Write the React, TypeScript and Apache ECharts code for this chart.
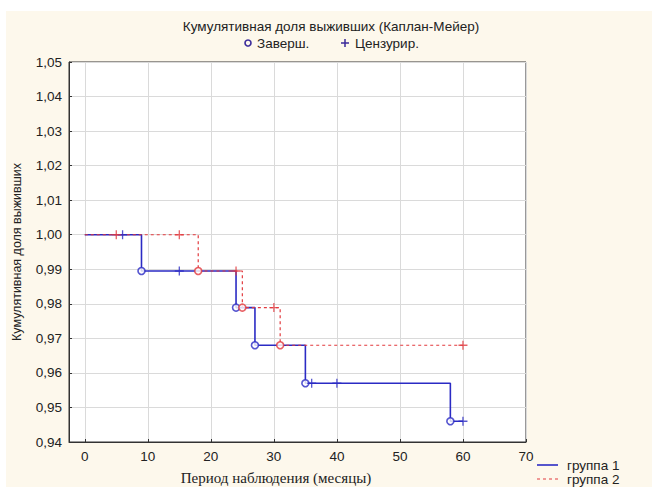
import React, { useEffect, useRef } from "react";
import * as echarts from "echarts";

// Group 1 (solid blue) step curve
const G1_TIMES = [0, 9, 24, 27, 35, 58, 60];
const G1_SURV = [1.0, 0.9895, 0.9789, 0.968, 0.957, 0.946, 0.946];
const G1_EVENT_T = [9, 24, 27, 35, 58];
const G1_EVENT_S = [0.9895, 0.9789, 0.968, 0.957, 0.946];
const G1_CENS_T = [6, 15, 36, 40, 60];
const G1_CENS_S = [1.0, 0.9895, 0.957, 0.957, 0.946];

// Group 2 (dashed red) step curve
const G2_TIMES = [0, 18, 25, 31, 60];
const G2_SURV = [1.0, 0.9895, 0.9789, 0.968, 0.968];
const G2_EVENT_T = [18, 25, 31];
const G2_EVENT_S = [0.9895, 0.9789, 0.968];
const G2_CENS_T = [5, 15, 24, 30, 60];
const G2_CENS_S = [1.0, 1.0, 0.9895, 0.9789, 0.968];

const SERIES_NAMES = ["группа 1", "группа 2"];
const TITLE = "Кумулятивная доля выживших (Каплан-Мейер)";
const MARK_LABELS = ["Заверш.", "Цензурир."];
const X_NAME = "Период наблюдения (месяцы)";
const Y_NAME = "Кумулятивная доля выживших";

const BLUE = "#2b2bc4";
const RED = "#e23a3e";
const FONT = "'Liberation Sans', Arial, sans-serif";
const PLUS = "path://M5,0 L5,10 M0,5 L10,5";

const zip = (a: number[], b: number[]) => a.map((v, i) => [v, b[i]]);

export default function App() {
  const ref = useRef<HTMLDivElement>(null);
  useEffect(() => {
    if (!ref.current) return;
    const chart = echarts.init(ref.current, undefined, { renderer: "svg" });
    const txt = (text: string, x: number, y: number, size = 13.5, extra: any = {}) => ({
      type: "text",
      x,
      y,
      style: { text, fontSize: size, fontFamily: FONT, fill: "#222", verticalAlign: "middle", ...extra },
    });
    chart.setOption({
      animation: false,
      backgroundColor: "transparent",
      textStyle: { fontFamily: FONT },
      grid: {
        left: 69,
        right: 126,
        top: 62,
        bottom: 45,
        show: true,
        backgroundColor: "#ffffff",
        borderColor: "#333",
        borderWidth: 1,
      },
      xAxis: {
        type: "value",
        min: -2.5,
        max: 70,
        splitNumber: 7,
        axisLine: { show: true, onZero: false, lineStyle: { color: "#333" } },
        axisTick: { show: true, inside: true, length: 3, lineStyle: { color: "#333" } },
        axisLabel: {
          fontSize: 13.5,
          color: "#222",
          margin: 7,
          fontFamily: FONT,
          formatter: (v: number) => (v < 0 ? "" : String(v)),
        },
        splitLine: { show: true, lineStyle: { color: "#dadada", width: 1 } },
      },
      yAxis: {
        type: "value",
        min: 0.94,
        max: 1.05,
        interval: 0.01,
        name: Y_NAME,
        nameLocation: "middle",
        nameGap: 46,
        nameTextStyle: { fontSize: 12.5, color: "#222", fontFamily: FONT },
        axisLine: { show: true, onZero: false, lineStyle: { color: "#333" } },
        axisTick: { show: true, inside: true, length: 3, lineStyle: { color: "#333" } },
        axisLabel: {
          fontSize: 13.5,
          color: "#222",
          margin: 7,
          fontFamily: FONT,
          formatter: (v: number) => v.toFixed(2).replace(".", ","),
        },
        splitLine: { show: true, lineStyle: { color: "#dadada", width: 1 } },
      },
      graphic: [
        txt(TITLE, 331, 26, 13.5, { align: "center" }),
        {
          type: "circle",
          shape: { cx: 248, cy: 43, r: 3 },
          style: { fill: "none", stroke: "#3a2a9a", lineWidth: 1.6 },
        },
        txt(MARK_LABELS[0], 257, 43),
        { type: "line", shape: { x1: 341, y1: 43, x2: 349, y2: 43 }, style: { stroke: "#3a2a9a", lineWidth: 1.5 } },
        { type: "line", shape: { x1: 345, y1: 39, x2: 345, y2: 47 }, style: { stroke: "#3a2a9a", lineWidth: 1.5 } },
        txt(MARK_LABELS[1], 355, 43),
        { type: "line", shape: { x1: 537, y1: 465, x2: 558, y2: 465 }, style: { stroke: BLUE, lineWidth: 1.6 } },
        txt(SERIES_NAMES[0], 567, 465),
        {
          type: "line",
          shape: { x1: 537, y1: 479, x2: 558, y2: 479 },
          style: { stroke: RED, lineWidth: 1.2, lineDash: [3, 3] },
        },
        txt(SERIES_NAMES[1], 567, 479),
        txt(X_NAME, 276, 478, 15, {
          align: "center",
          fontFamily: "'Liberation Serif', 'Times New Roman', serif",
        }),
      ],
      series: [
        {
          name: SERIES_NAMES[0],
          type: "line",
          step: "end",
          data: zip(G1_TIMES, G1_SURV),
          symbol: "none",
          lineStyle: { color: BLUE, width: 1.6 },
          itemStyle: { color: BLUE },
          z: 2,
        },
        {
          name: SERIES_NAMES[1],
          type: "line",
          step: "end",
          data: zip(G2_TIMES, G2_SURV),
          symbol: "none",
          lineStyle: { color: RED, width: 1.2, type: [3, 3] },
          itemStyle: { color: RED },
          z: 3,
        },
        {
          name: "g1-events",
          type: "scatter",
          data: zip(G1_EVENT_T, G1_EVENT_S),
          symbol: "circle",
          symbolSize: 7,
          itemStyle: { color: "#fff", borderColor: BLUE, borderWidth: 1.6 },
          z: 4,
        },
        {
          name: "g1-cens",
          type: "scatter",
          data: zip(G1_CENS_T, G1_CENS_S),
          symbol: PLUS,
          symbolSize: 9,
          itemStyle: { color: "none", borderColor: BLUE, borderWidth: 1.3 },
          z: 4,
        },
        {
          name: "g2-events",
          type: "scatter",
          data: zip(G2_EVENT_T, G2_EVENT_S),
          symbol: "circle",
          symbolSize: 7,
          itemStyle: { color: "#fff", borderColor: RED, borderWidth: 1.6 },
          z: 5,
        },
        {
          name: "g2-cens",
          type: "scatter",
          data: zip(G2_CENS_T, G2_CENS_S),
          symbol: PLUS,
          symbolSize: 9,
          itemStyle: { color: "none", borderColor: RED, borderWidth: 1.3 },
          z: 5,
        },
      ],
    });
    return () => chart.dispose();
  }, []);

  return (
    <div style={{ position: "absolute", left: 0, top: 0, width: 652, height: 487, background: "#ffffff", overflow: "hidden" }}>
      <div style={{ position: "absolute", left: 6, top: 11, right: 0, bottom: 0, background: "#fdf8ec" }} />
      <div ref={ref} style={{ position: "absolute", left: 0, top: 0, width: 652, height: 487 }} />
    </div>
  );
}
